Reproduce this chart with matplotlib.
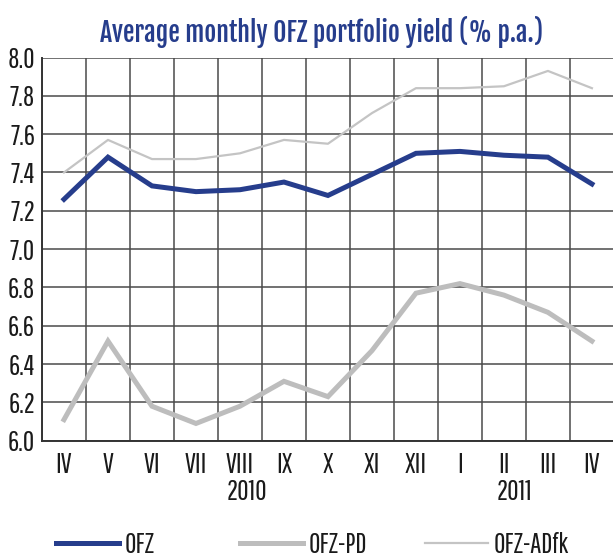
import matplotlib
matplotlib.use("Agg")
import matplotlib.pyplot as plt
import numpy as np

# months Apr 2010 .. Apr 2011
months = ["IV", "V", "VI", "VII", "VIII", "IX", "X", "XI", "XII", "I", "II", "III", "IV"]
years = ["2010", "2011"]
year_pos = [4.15, 10.25]

ofz = [7.26, 7.48, 7.33, 7.30, 7.31, 7.35, 7.28, 7.39, 7.50, 7.51, 7.49, 7.48, 7.34]
ofz_pd = [6.11, 6.52, 6.18, 6.09, 6.18, 6.31, 6.23, 6.47, 6.77, 6.82, 6.76, 6.67, 6.52]
ofz_adfk = [7.40, 7.57, 7.47, 7.47, 7.50, 7.57, 7.55, 7.71, 7.84, 7.84, 7.85, 7.93, 7.84]

font = ["Pathway Gothic One", "DejaVu Sans"]
plt.rcParams["font.family"] = font
fs = 20

fig = plt.figure(figsize=(6.13, 5.59), dpi=100)
ax = fig.add_axes([0.0685, 0.2116, 0.933, 0.6855])

x = np.arange(len(months))
l1, = ax.plot(x, ofz, color="#263d8c", lw=3.6, solid_joinstyle="miter", zorder=5)
l2, = ax.plot(x, ofz_pd, color="#bdbdbd", lw=3.6, solid_joinstyle="miter", zorder=4)
l3, = ax.plot(x, ofz_adfk, color="#c4c4c4", lw=1.6, zorder=3)

ax.set_xlim(-0.5, len(months) - 0.5)
ax.set_ylim(6.0, 8.0)
ax.set_yticks(np.arange(6.0, 8.01, 0.2))
ax.set_yticklabels([f"{v:.1f}" for v in np.arange(6.0, 8.01, 0.2)])
ax.set_xticks(x)
ax.set_xticklabels(months)
ax.set_xticks(np.arange(-0.5, len(months), 1.0), minor=True)

ax.grid(True, axis="y", which="major", color="#4a4a4a", lw=1.1)
ax.grid(True, axis="x", which="minor", color="#4a4a4a", lw=1.1)
ax.set_axisbelow(True)
ax.tick_params(axis="both", which="both", length=0, labelsize=fs, colors="#1a1a1a")
ax.tick_params(axis="y", pad=5)
ax.tick_params(axis="x", pad=8)

for s in ["top", "right"]:
    ax.spines[s].set_visible(False)
for s in ["left", "bottom"]:
    ax.spines[s].set_color("#333333")
    ax.spines[s].set_linewidth(1.4)

for yr, p in zip(years, year_pos):
    ax.text(p, -0.133, yr, transform=ax.get_xaxis_transform(), ha="center", va="center",
            fontsize=fs, color="#1a1a1a")

fig.text(0.525, 0.943, "Average monthly OFZ portfolio yield (% p.a.)", ha="center", va="center",
         fontsize=18.5, color="#263d8c", family=["Fjalla One", "DejaVu Sans"])

legend_x = [0.092, 0.392, 0.694]
for h, lab, lx in zip([l1, l2, l3], ["OFZ", "OFZ-PD", "OFZ-ADfk"], legend_x):
    fig.legend([h], [lab], loc="center left", bbox_to_anchor=(lx, 0.025), frameon=False,
               fontsize=fs, handlelength=2.27, handletextpad=0.2, borderpad=0,
               borderaxespad=0, labelcolor="#1a1a1a")

fig.savefig("out.png", dpi=100)
